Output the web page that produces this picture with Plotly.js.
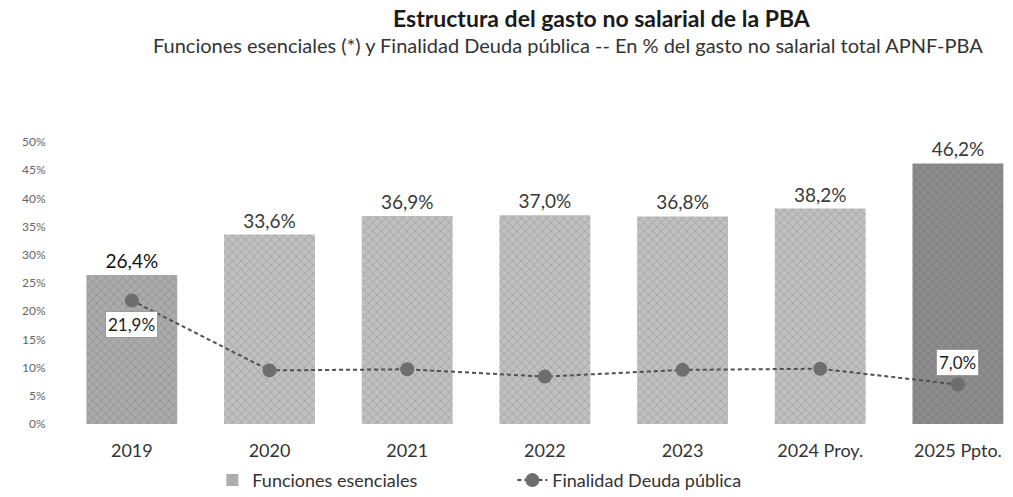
<!DOCTYPE html>
<html>
<head>
<meta charset="utf-8">
<script src="https://cdn.plot.ly/plotly-3.0.1.min.js"></script>
<style>html,body{margin:0;padding:0;background:#fff}#chart{width:1013px;height:497px}#err{position:absolute;top:0;left:0;font:12px monospace;color:red}</style>
</head>
<body>
<div id="chart"></div>
<div id="err"></div>
<script>
window.onerror = function (m, s, l) { document.getElementById("err").textContent += " ERR: " + m + " @" + l; };

const categories = ["2019", "2020", "2021", "2022", "2023", "2024 Proy.", "2025 Ppto."];
const funcionesEsenciales = [26.4, 33.6, 36.9, 37.0, 36.8, 38.2, 46.2];
const deudaPublica = [21.9, 9.5, 9.7, 8.4, 9.6, 9.8, 7.0];
const yTickValues = [0, 5, 10, 15, 20, 25, 30, 35, 40, 45, 50];
const labelledDebtPoints = [0, 6];

function pct(v) { return v.toFixed(1).replace(".", ",") + "%"; }

const barColors = ["#ababab", "#c0c0c0", "#c0c0c0", "#c0c0c0", "#c0c0c0", "#c0c0c0", "#8c8c8c"];
const barLabelColors = ["#111111", "#3a3a3a", "#3a3a3a", "#3a3a3a", "#3a3a3a", "#3a3a3a", "#3a3a3a"];
const FONT = "Lato, 'Open Sans', sans-serif";

const bars = {
  type: "bar",
  name: "Funciones esenciales",
  x: categories,
  y: funcionesEsenciales,
  text: funcionesEsenciales.map(pct),
  texttemplate: "%{text}",
  textposition: "outside",
  textfont: {family: FONT, size: 19, color: barLabelColors},
  marker: {
    color: barColors,
    pattern: {shape: "x", fgcolor: "#dcdcdc", fgopacity: 0.45, size: 6, solidity: 0.15, fillmode: "overlay"},
    line: {width: 0}
  },
  cliponaxis: false,
  hoverinfo: "skip"
};

const line = {
  type: "scatter",
  mode: "lines+markers",
  name: "Finalidad Deuda pública",
  x: categories,
  y: deudaPublica,
  line: {color: "#505050", width: 2, dash: "4px,3px"},
  marker: {color: "#6e6e6e", size: 14},
  cliponaxis: false,
  hoverinfo: "skip"
};

const annotations = [
  {text: "<b>Estructura del gasto no salarial de la PBA</b>", xref: "paper", yref: "paper",
   x: 0.567, y: 1.44, xanchor: "center", yanchor: "middle", showarrow: false,
   font: {family: FONT, size: 23, color: "#1a1a1a"}},
  {text: "Funciones esenciales (*) y Finalidad Deuda pública -- En % del gasto no salarial total APNF-PBA",
   xref: "paper", yref: "paper", x: 0.532, y: 1.345, xanchor: "center", yanchor: "middle", showarrow: false,
   font: {family: FONT, size: 20, color: "#333333"}}
];

labelledDebtPoints.forEach(function (i, k) {
  annotations.push({
    x: i, y: deudaPublica[i], xref: "x", yref: "y",
    text: pct(deudaPublica[i]),
    showarrow: false,
    yshift: k === 0 ? -24 : 22,
    bgcolor: "#ffffff", bordercolor: "#9a9a9a", borderwidth: 1, borderpad: 2,
    font: {family: FONT, size: 17, color: "#222222"}
  });
});

const layout = {
  width: 1013, height: 497,
  margin: {l: 63, r: 0, t: 142, b: 73, autoexpand: false},
  paper_bgcolor: "#ffffff", plot_bgcolor: "#ffffff",
  bargap: 0.34,
  showlegend: true,
  legend: {orientation: "h", x: 0.473, xanchor: "center", y: -0.2, yanchor: "middle",
           font: {family: FONT, size: 18, color: "#333333"}, entrywidth: 255},
  xaxis: {type: "category", range: [-0.5, 6.4], showgrid: false, zeroline: false, showline: false,
          ticks: "outside", ticklen: 10, tickcolor: "rgba(0,0,0,0)",
          tickfont: {family: FONT, size: 18, color: "#333333"}},
  yaxis: {range: [0, 50], tickmode: "array", tickvals: yTickValues, ticktext: yTickValues.map(function (v) { return v + "%"; }),
          showgrid: false, zeroline: false, showline: false,
          ticks: "outside", ticklen: 14, tickcolor: "rgba(0,0,0,0)",
          tickfont: {family: FONT, size: 12, color: "#666666"}},
  annotations: annotations
};

Plotly.newPlot("chart", [bars, line], layout, {displayModeBar: false})
  .catch(function (e) { document.getElementById("err").textContent += " PROMISE ERR: " + e; });
</script>
</body>
</html>
